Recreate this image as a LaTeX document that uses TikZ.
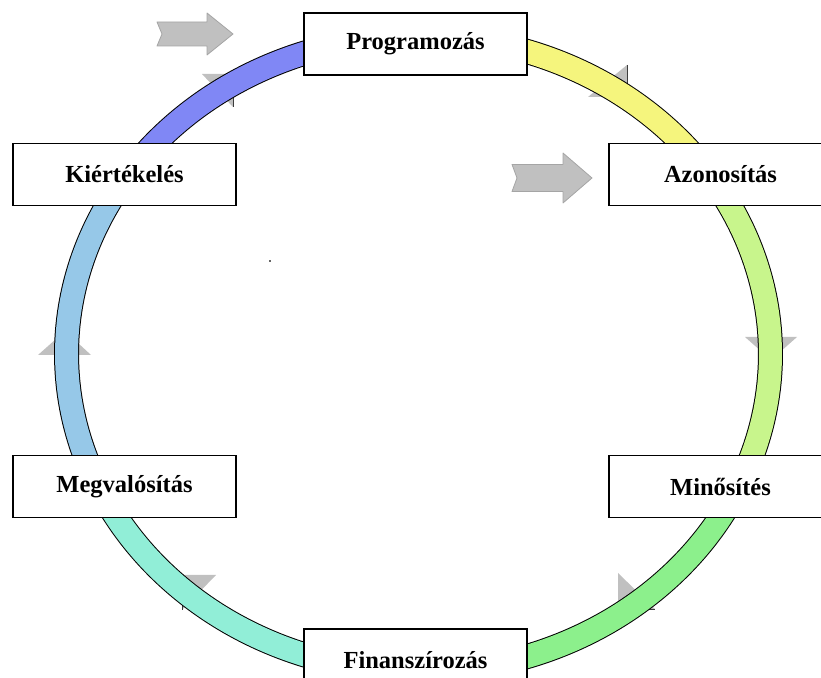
\documentclass[tikz,border=0pt]{standalone}
\usepackage{fontspec}
\setmainfont{Liberation Serif}
\definecolor{ringYellow}{RGB}{245,245,125}
\definecolor{ringYGreen}{RGB}{200,245,140}
\definecolor{ringGreen}{RGB}{140,240,140}
\definecolor{ringAqua}{RGB}{145,238,215}
\definecolor{ringLBlue}{RGB}{150,200,232}
\definecolor{ringBlue}{RGB}{128,135,245}
\definecolor{triGray}{RGB}{192,192,192}
\definecolor{triEdge}{RGB}{60,60,60}
\definecolor{arrGray}{RGB}{192,192,192}
\definecolor{arrEdge}{RGB}{165,165,165}
\begin{document}
\begin{tikzpicture}[x=1pt,y=1pt,
  box/.style={draw=black, line width=1.1pt, fill=white, minimum width=223pt,
    minimum height=62pt, inner sep=0pt, font=\fontsize{24.5}{28}\selectfont\bfseries},
  ring/.style={draw=black, line width=1pt, double distance=23pt, double=#1},
  tri/.style={fill=triGray, draw=none},
  triedge/.style={draw=triEdge, line width=1pt},
  blockarrow/.style={fill=arrGray, draw=arrEdge, line width=0.8pt, line join=round}]
\useasboundingbox (0,0) rectangle (821,677);
\clip (0,0) rectangle (821,677);
\coordinate (C) at (418.5,323);

% arrowheads on the ring (behind the ring)
\fill[tri] (202,603) -- (233,603) -- (233,570) -- cycle;
\draw[triedge] (233,603) -- (233,570);
\fill[tri] (627,612) -- (627,580) -- (588,580) -- cycle;
\draw[triedge] (627,612) -- (627,580);
\fill[tri] (745,340) -- (797,340) -- (771,317) -- cycle;
\fill[tri] (618,104) -- (618,68) -- (655,68) -- cycle;
\draw[triedge] (618,68) -- (655,68);
\fill[tri] (182,102) -- (216,102) -- (182,67) -- cycle;
\draw[triedge] (182,102) -- (182,67);
\fill[tri] (38,322) -- (91,322) -- (65,346) -- cycle;

% ring segments
\draw[ring=ringYellow] (C) ++(90:352 and 318) arc[start angle=90, end angle=34.3, x radius=352, y radius=318];
\draw[ring=ringYGreen] (C) ++(34.3:352 and 318) arc[start angle=34.3, end angle=-24.6, x radius=352, y radius=318];
\draw[ring=ringGreen] (C) ++(-24.6:352 and 318) arc[start angle=-24.6, end angle=-90, x radius=352, y radius=318];
\draw[ring=ringAqua] (C) ++(-90:352 and 318) arc[start angle=-90, end angle=-155.4, x radius=352, y radius=318];
\draw[ring=ringLBlue] (C) ++(204.6:352 and 318) arc[start angle=204.6, end angle=145.7, x radius=352, y radius=318];
\draw[ring=ringBlue] (C) ++(145.7:352 and 318) arc[start angle=145.7, end angle=90, x radius=352, y radius=318];

% boxes
\node[box] (prog) at (415.5,633) {Programozás};
\node[box] (azon) at (720.5,502.5) {Azonosítás};
\node[box] (minos) at (720.5,190.5) {Minősítés};
\node[box] (fin) at (415.5,17) {Finanszírozás};
\node[box] (megv) at (124.5,190.5) {Megvalósítás};
\node[box] (kiert) at (124.5,502.5) {Kiértékelés};

% gray block arrows
\draw[blockarrow] (157,655) -- (207,655) -- (207,664) -- (233,643) -- (207,622)
  -- (207,631) -- (157,631) -- (162,643) -- cycle;
\draw[blockarrow] (512,512.5) -- (563,512.5) -- (563,524) -- (592,499) -- (563,474)
  -- (563,485.5) -- (512,485.5) -- (517,499) -- cycle;

% tiny dot
\fill[black!60] (269,415) rectangle (271,417);
\end{tikzpicture}
\end{document}
